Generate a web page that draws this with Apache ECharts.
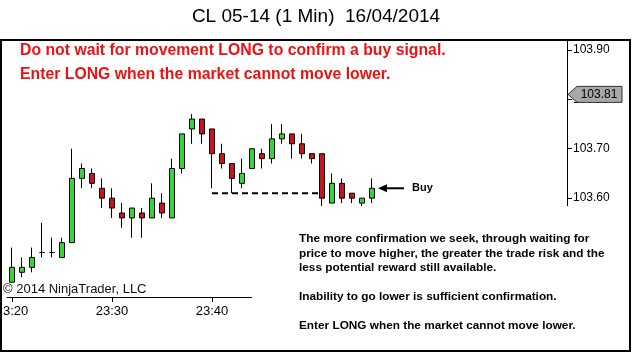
<!DOCTYPE html>
<html>
<head>
<meta charset="utf-8">
<script src="https://cdn.jsdelivr.net/npm/echarts@6/dist/echarts.min.js"></script>
<style>
  html, body { margin: 0; padding: 0; background: #fff; }
  #chart { width: 632px; height: 353px; }
</style>
</head>
<body>
<div id="chart"></div>
<script>
// minute bars, 23:20 onwards (axis keeps room on the right like the original)
const times = [
  '23:20', '23:21', '23:22', '23:23', '23:24', '23:25', '23:26', '23:27', '23:28', '23:29',
  '23:30', '23:31', '23:32', '23:33', '23:34', '23:35', '23:36', '23:37', '23:38', '23:39',
  '23:40', '23:41', '23:42', '23:43', '23:44', '23:45', '23:46', '23:47', '23:48', '23:49',
  '23:50', '23:51', '23:52', '23:53', '23:54', '23:55', '23:56', '23:57', '23:58', '23:59',
  '00:00', '00:01', '00:02', '00:03', '00:04', '00:05', '00:06', '00:07', '00:08', '00:09',
  '00:10', '00:11', '00:12', '00:13', '00:14', '00:15'
];

const opens  = [103.43, 103.45, 103.46, 103.49, 103.49, 103.48, 103.51, 103.64, 103.65, 103.62,
                103.60, 103.57, 103.56, 103.57, 103.56, 103.59, 103.56, 103.66, 103.74, 103.76,
                103.74, 103.69, 103.67, 103.63, 103.66, 103.69, 103.68, 103.72, 103.73, 103.71,
                103.69, 103.69, 103.59, 103.63, 103.61, 103.59, 103.60];
const closes = [103.46, 103.46, 103.48, 103.49, 103.49, 103.51, 103.64, 103.66, 103.63, 103.60,
                103.58, 103.56, 103.58, 103.56, 103.60, 103.57, 103.66, 103.73, 103.76, 103.73,
                103.69, 103.67, 103.64, 103.65, 103.70, 103.68, 103.72, 103.73, 103.71, 103.69,
                103.68, 103.60, 103.63, 103.60, 103.60, 103.60, 103.62];
const lows   = [103.43, 103.44, 103.45, 103.48, 103.48, 103.48, 103.51, 103.62, 103.62, 103.58,
                103.56, 103.54, 103.52, 103.52, 103.56, 103.56, 103.56, 103.65, 103.71, 103.71,
                103.62, 103.66, 103.61, 103.62, 103.66, 103.66, 103.67, 103.71, 103.68, 103.68,
                103.67, 103.56, 103.59, 103.59, 103.59, 103.58, 103.59];
const highs  = [103.50, 103.48, 103.50, 103.55, 103.52, 103.52, 103.70, 103.67, 103.66, 103.64,
                103.62, 103.59, 103.58, 103.58, 103.63, 103.61, 103.68, 103.73, 103.77, 103.76,
                103.74, 103.71, 103.67, 103.68, 103.70, 103.70, 103.75, 103.75, 103.73, 103.73,
                103.69, 103.69, 103.65, 103.64, 103.61, 103.60, 103.64];

// support level drawn as dashed line
const supportLevel = 103.61;
const supportFrom = '23:40';
const supportTo = '23:51';
const lastPrice = 103.81;

const titleText = 'CL 05-14 (1 Min)  16/04/2014';
const redLines = [
  'Do not wait for movement LONG to confirm a buy signal.',
  'Enter LONG when the market cannot move lower.'
];
const noteLines = [
  'The more confirmation we seek, through waiting for',
  'price to move higher, the greater the trade risk and the',
  'less potential reward still available.',
  '',
  'Inability to go lower is sufficient confirmation.',
  '',
  'Enter LONG when the market cannot move lower.'
];

const FONT = '"Liberation Sans", Arial, sans-serif';

const chartInstance = echarts.init(document.getElementById('chart'));

const candles = opens.map((o, i) => [o, closes[i], lows[i], highs[i]]);

const option = {
  animation: false,
  backgroundColor: '#fff',
  grid: { left: 7, right: 65, top: 40, bottom: 56, outerBoundsMode: 'none', containLabel: false },
  xAxis: {
    type: 'category',
    data: times,
    boundaryGap: true,
    axisLine: { show: true, lineStyle: { color: '#000', width: 1 } },
    axisTick: { show: true, alignWithLabel: true, interval: 9, length: 5, lineStyle: { color: '#000' } },
    axisLabel: { interval: 9, color: '#000', fontFamily: FONT, fontSize: 13, margin: 8 },
    splitLine: { show: false }
  },
  yAxis: {
    type: 'value',
    position: 'right',
    min: 103.4,
    max: 103.92,
    interval: 0.1,
    scale: true,
    axisLine: { show: true, lineStyle: { color: '#000', width: 1 } },
    axisTick: { show: true, length: 5, lineStyle: { color: '#000' } },
    axisLabel: {
      color: '#000', fontFamily: FONT, fontSize: 12, margin: 6,
      showMaxLabel: false,
      formatter: v => v.toFixed(2)
    },
    splitLine: { show: false }
  },
  series: [
    {
      type: 'candlestick',
      data: candles,
      barWidth: 6,
      itemStyle: {
        color: '#33d633',
        color0: '#c8141c',
        borderColor: '#000',
        borderColor0: '#000',
        borderWidth: 1
      }
    },
    {
      type: 'line',
      data: [[supportFrom, supportLevel], [supportTo, supportLevel]],
      symbol: 'none',
      lineStyle: { color: '#000', width: 2, type: [6, 4] },
      z: 1
    }
  ]
};
chartInstance.setOption(option);

// overlay: frame, texts, price badge, buy arrow
const W = chartInstance.getWidth();
const axisX = W - 65;
const badgeY = chartInstance.convertToPixel({ yAxisIndex: 0 }, lastPrice);
const lastIdx = closes.length - 1;
const buyPt = chartInstance.convertToPixel({ xAxisIndex: 0, yAxisIndex: 0 }, [lastIdx, closes[lastIdx]]);

const graphics = [
  {
    type: 'rect', z: 100,
    shape: { x: 252, y: 206, width: 378, height: 145 },
    style: { fill: '#fff' }
  },
  {
    type: 'rect', z: 110,
    shape: { x: 1, y: 40, width: 629, height: 311 },
    style: { fill: 'none', stroke: '#000', lineWidth: 2 }
  },
  {
    type: 'text', z: 110, x: 316, y: 17,
    style: { text: titleText, fill: '#000', font: '19px ' + FONT, textAlign: 'center', textVerticalAlign: 'middle' }
  },
  {
    type: 'text', z: 110, x: 3, y: 289,
    style: { text: '\u00a9 2014 NinjaTrader, LLC', fill: '#111', font: '13px ' + FONT, textVerticalAlign: 'middle' }
  },
  {
    type: 'polygon', z: 110,
    shape: { points: [[axisX + 1, badgeY], [axisX + 10, badgeY - 8], [axisX + 55, badgeY - 8], [axisX + 55, badgeY + 8], [axisX + 10, badgeY + 8]] },
    style: { fill: '#a8a8a8', stroke: '#333', lineWidth: 1 }
  },
  {
    type: 'text', z: 111, x: axisX + 32, y: badgeY,
    style: { text: lastPrice.toFixed(2), fill: '#000', font: '12px ' + FONT, textAlign: 'center', textVerticalAlign: 'middle' }
  },
  {
    type: 'line', z: 110,
    shape: { x1: buyPt[0] + 13, y1: buyPt[1], x2: buyPt[0] + 32, y2: buyPt[1] },
    style: { stroke: '#000', lineWidth: 2 }
  },
  {
    type: 'polygon', z: 110,
    shape: { points: [[buyPt[0] + 6, buyPt[1]], [buyPt[0] + 15, buyPt[1] - 4], [buyPt[0] + 15, buyPt[1] + 4]] },
    style: { fill: '#000' }
  },
  {
    type: 'text', z: 110, x: buyPt[0] + 40, y: buyPt[1],
    style: { text: 'Buy', fill: '#000', font: 'bold 11px ' + FONT, textVerticalAlign: 'middle' }
  }
];

redLines.forEach((t, i) => {
  graphics.push({
    type: 'text', z: 110, x: 20, y: 51 + i * 24,
    style: { text: t, fill: '#ee1111', font: 'bold 15.8px ' + FONT, textVerticalAlign: 'middle' }
  });
});

noteLines.forEach((t, i) => {
  if (!t) return;
  graphics.push({
    type: 'text', z: 110, x: 299, y: 239 + i * 14.5,
    style: { text: t, fill: '#000', font: 'bold 11.8px ' + FONT, textVerticalAlign: 'middle' }
  });
});

chartInstance.setOption({ graphic: graphics });

window.addEventListener('resize', () => {
  chartInstance.resize();
});
</script>
</body>
</html>
